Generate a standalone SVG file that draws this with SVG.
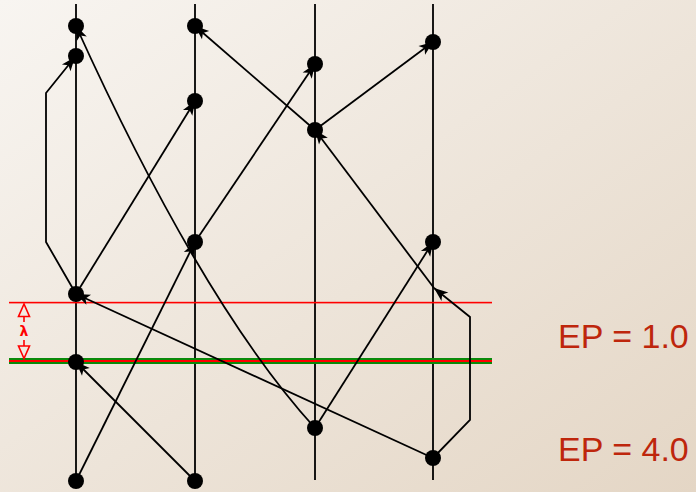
<svg xmlns="http://www.w3.org/2000/svg" width="696" height="492" viewBox="0 0 696 492">
<defs>
<linearGradient id="bg" x1="0" y1="0" x2="1" y2="1">
<stop offset="0" stop-color="#f8f5f1"/>
<stop offset="1" stop-color="#e4d6c5"/>
</linearGradient>
<marker id="ah" markerUnits="userSpaceOnUse" markerWidth="18" markerHeight="14" viewBox="-1 -7 18 14" refX="14" refY="0" orient="auto">
<path d="M0,-5.5 L14,0 L0,5.5 L3.5,0 z" fill="#000"/>
</marker>
</defs>
<style>
.proc{stroke:#000;stroke-width:1.8;fill:none}
.msg{stroke:#000;stroke-width:1.8;fill:none;marker-end:url(#ah)}
.ev{fill:#000}
.ep{font-family:"Liberation Sans",Arial,sans-serif;font-size:34px;fill:#be260c}
</style>
<rect x="0" y="0" width="696" height="492" fill="url(#bg)"/>

<g id="processes">
<line class="proc" x1="76" y1="4" x2="76" y2="481"/>
<line class="proc" x1="195" y1="4" x2="195" y2="481"/>
<line class="proc" x1="315" y1="4" x2="315" y2="480"/>
<line class="proc" x1="433" y1="4" x2="433" y2="480"/>
</g>

<g id="epoch-lines">
<rect x="9" y="301.8" width="483" height="1.6" fill="#ff0000"/>
<rect x="9" y="358" width="483" height="6" fill="#0a8a0a"/>
<rect x="9" y="360" width="483" height="2" fill="#ff0000"/>
</g>

<g id="lambda" stroke="#ff0000" fill="none" stroke-width="1.6">
<polygon points="24,304 18.5,316.5 29.5,316.5"/>
<line x1="24" y1="316.5" x2="24" y2="322"/>
<polygon points="24,358.5 18.5,346 29.5,346"/>
<line x1="24" y1="340" x2="24" y2="346"/>
<text x="24" y="336" text-anchor="middle" stroke="none" fill="#ff0000" font-family="DejaVu Sans,sans-serif" font-size="14" font-weight="bold">λ</text>
</g>

<g id="connectors">
<path class="msg" d="M76,294 L46,242 L46,93 L75,57"/>
<path class="msg" d="M315,428 Q202,304 76,26"/>
<path class="msg" d="M315,130 L195,26"/>
<path class="msg" d="M76,294 L195,101"/>
<path class="msg" d="M195,242 L315,64"/>
<path class="msg" d="M315,130 L433,42"/>
<path class="msg" d="M434,288 L315,130"/>
<path class="msg" d="M433,458 L470,420 L470,317 L434,288"/>
<path class="msg" d="M315,428 L433,242"/>
<path class="msg" d="M433,458 L76,294"/>
<path class="msg" d="M195,481 L76,362"/>
<path class="msg" d="M76,481 L195,242"/>
</g>

<g id="events">
<circle class="ev" cx="76" cy="26" r="8"/>
<circle class="ev" cx="76" cy="56" r="8"/>
<circle class="ev" cx="76" cy="294" r="8"/>
<circle class="ev" cx="76" cy="362" r="8"/>
<circle class="ev" cx="76" cy="481" r="8"/>
<circle class="ev" cx="195" cy="26" r="8"/>
<circle class="ev" cx="195" cy="101" r="8"/>
<circle class="ev" cx="195" cy="242" r="8"/>
<circle class="ev" cx="195" cy="481" r="8"/>
<circle class="ev" cx="315" cy="64" r="8"/>
<circle class="ev" cx="315" cy="130" r="8"/>
<circle class="ev" cx="315" cy="428" r="8"/>
<circle class="ev" cx="433" cy="42" r="8"/>
<circle class="ev" cx="433" cy="242" r="8"/>
<circle class="ev" cx="433" cy="458" r="8"/>
</g>

<g id="labels">
<text class="ep" x="558" y="348">EP = 1.0</text>
<text class="ep" x="558" y="461">EP = 4.0</text>
</g>
</svg>
